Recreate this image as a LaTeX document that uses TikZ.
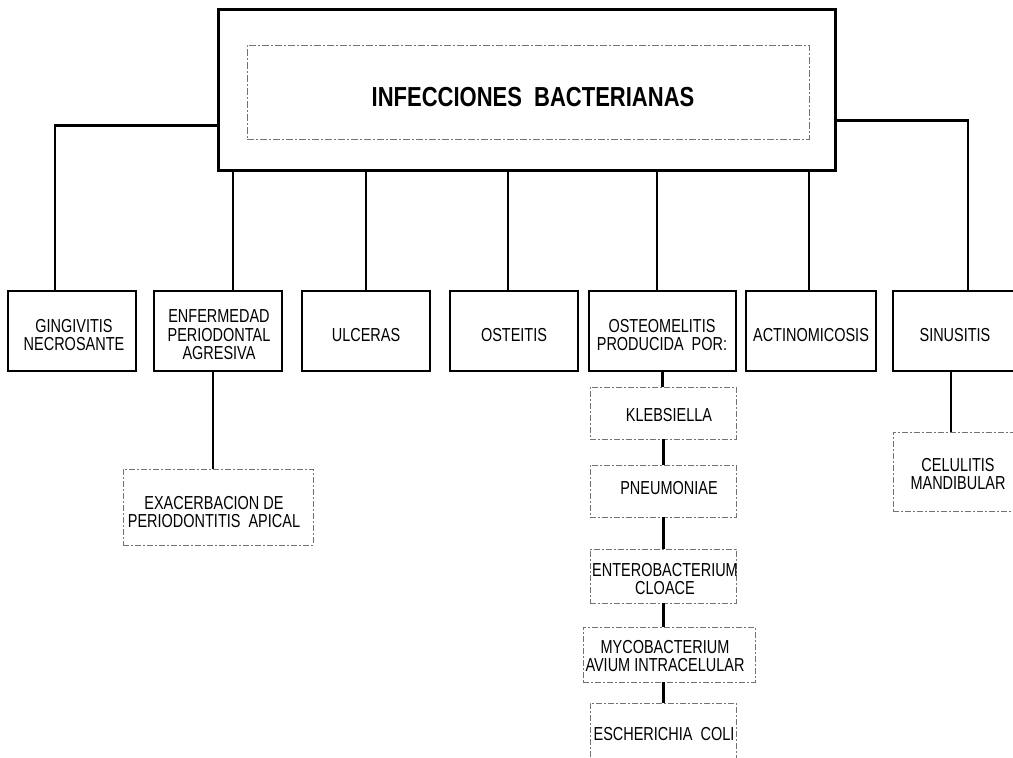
\documentclass[tikz,border=0pt]{standalone}
\usepackage{fontspec}
\newfontfamily\condf[FakeStretch=0.77]{Liberation Sans}
\newfontfamily\condtf[FakeStretch=0.80]{Liberation Sans}
\begin{document}
\begin{tikzpicture}[x=1pt,y=-1pt,
  outerbox/.style={draw,line width=3pt,minimum width=617pt,minimum height=161pt,inner sep=0pt},
  innerbox/.style={draw=black!55,line width=0.8pt,dash pattern=on 7pt off 2pt on 2pt off 2pt,
    minimum width=562pt,minimum height=94pt,inner sep=0pt},
  rowbox/.style={draw,line width=2.6pt,minimum height=80pt,inner sep=0pt},
  subbox/.style={draw=black!55,line width=0.8pt,dash pattern=on 6pt off 2pt on 2pt off 2pt,inner sep=0pt},
  lbl/.style={font=\condf\fontsize{18.8}{18.6}\selectfont,align=center,inner sep=0pt},
  ttl/.style={font=\condtf\bfseries\fontsize{27.5}{28}\selectfont,inner sep=0pt},
  conn/.style={line width=2.6pt},
  chain/.style={line width=3pt}]
\useasboundingbox (0,0) rectangle (1013,758);

% title block
\node[outerbox] (top) at (526.5,89.5) {};
\node[innerbox] (inner) at (528,92) {};
\node[ttl] (title) at (533,97) {INFECCIONES\ \ BACTERIANAS};

% first level boxes
\node[rowbox,minimum width=128pt] (gin) at (72,331) {};
\node[rowbox,minimum width=128pt] (enf) at (218,331) {};
\node[rowbox,minimum width=128pt] (ulc) at (366,331) {};
\node[rowbox,minimum width=128pt] (ost) at (514,331) {};
\node[rowbox,minimum width=147pt] (osm) at (662.5,331) {};
\node[rowbox,minimum width=130pt] (act) at (811,331) {};
\node[rowbox,minimum width=124pt] (sin) at (955,331) {};

\node[lbl] (ginT) at (74,335) {GINGIVITIS\\NECROSANTE};
\node[lbl] (enfT) at (219,335) {ENFERMEDAD\\PERIODONTAL\\AGRESIVA};
\node[lbl] (ulcT) at (366,335) {ULCERAS};
\node[lbl] (ostT) at (514,335) {OSTEITIS};
\node[lbl] (osmT) at (662,335) {OSTEOMELITIS\\PRODUCIDA\ \ POR:};
\node[lbl] (actT) at (811,335) {ACTINOMICOSIS};
\node[lbl] (sinT) at (955,335) {SINUSITIS};

% second level boxes
\node[subbox,minimum width=190pt,minimum height=76pt] (exa) at (218,507) {};
\node[lbl] (exaT) at (214,512) {EXACERBACION DE\\PERIODONTITIS\ \ APICAL};

\node[subbox,minimum width=146pt,minimum height=52pt] (kle) at (663,413) {};
\node[lbl] (kleT) at (669,415) {KLEBSIELLA};
\node[subbox,minimum width=146pt,minimum height=52pt] (pne) at (663,491) {};
\node[lbl] (pneT) at (669,488) {PNEUMONIAE};
\node[subbox,minimum width=146pt,minimum height=54pt] (ent) at (663,576) {};
\node[lbl] (entT) at (665,579) {ENTEROBACTERIUM\\CLOACE};
\node[subbox,minimum width=172pt,minimum height=55pt] (myc) at (669,654.5) {};
\node[lbl] (mycT) at (665,656) {MYCOBACTERIUM\\AVIUM INTRACELULAR};
\node[subbox,minimum width=146pt,minimum height=56pt] (esc) at (663,731) {};
\node[lbl] (escT) at (664,734) {ESCHERICHIA\ \ COLI};

\node[subbox,minimum width=130pt,minimum height=79pt] (cel) at (958,471.5) {};
\node[lbl] (celT) at (958,474) {CELULITIS\\MANDIBULAR};

% connectors from the title block
\draw[conn] ([yshift=-36pt]top.west) -| ([xshift=-17pt]gin.north);
\draw[conn] ([yshift=-31pt]top.east) -| ([xshift=13pt]sin.north);
\draw[conn] ([xshift=15pt]enf.north) -- ([xshift=15pt]enf.north |- top.south);
\draw[conn] (ulc.north) -- (ulc.north |- top.south);
\draw[conn] ([xshift=-6pt]ost.north) -- ([xshift=-6pt]ost.north |- top.south);
\draw[conn] ([xshift=-5.5pt]osm.north) -- ([xshift=-5.5pt]osm.north |- top.south);
\draw[conn] ([xshift=-2pt]act.north) -- ([xshift=-2pt]act.north |- top.south);

% second level connectors
\draw[conn] ([xshift=-5pt]enf.south) -- ([xshift=-5pt]enf.south |- exa.north);
\draw[conn] ([xshift=-4pt]sin.south) -- ([xshift=-4pt]sin.south |- cel.north);
\draw[chain] (osm.south) -- (osm.south |- kle.north);
\draw[chain] (kle.south) -- (kle.south |- pne.north);
\draw[chain] (pne.south) -- (pne.south |- ent.north);
\draw[chain] (ent.south) -- (ent.south |- myc.north);
\draw[chain] (ent.south |- myc.south) -- (ent.south |- esc.north);
\end{tikzpicture}
\end{document}
